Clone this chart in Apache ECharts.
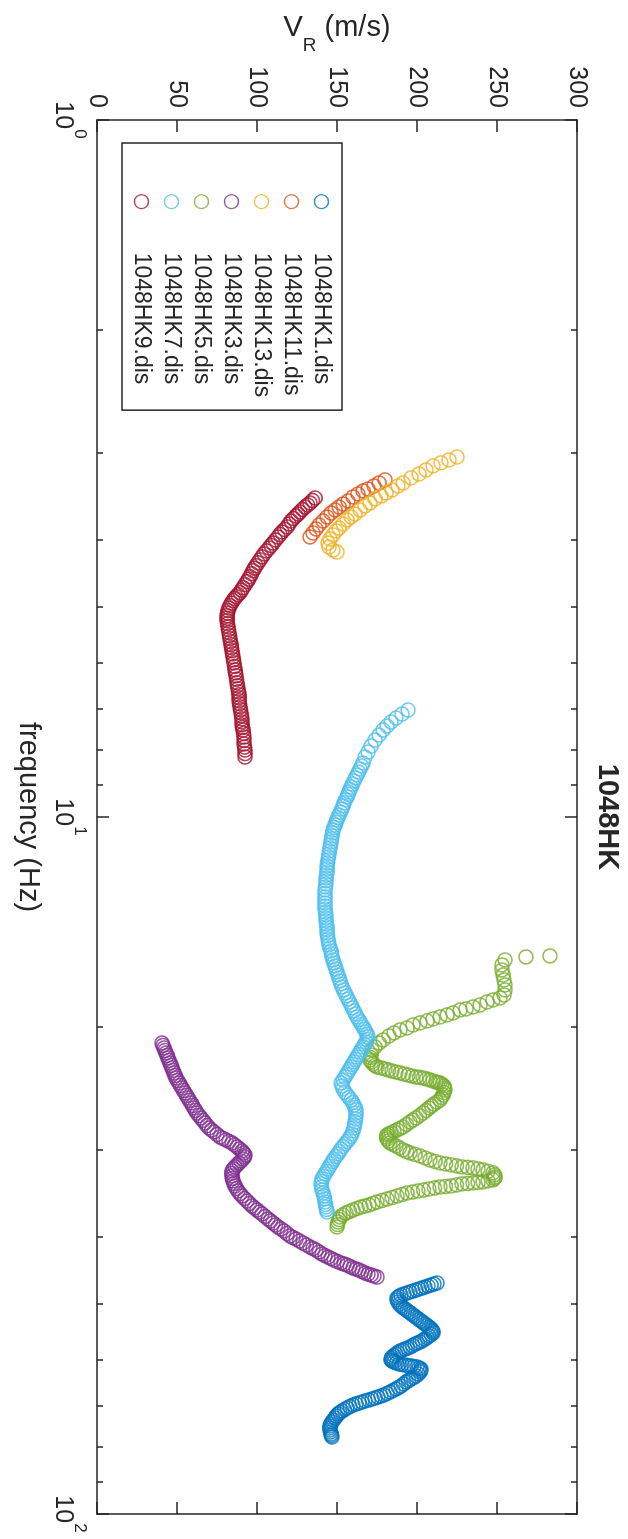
<!DOCTYPE html>
<html>
<head>
<meta charset="utf-8">
<script src="https://cdn.jsdelivr.net/npm/echarts@6/dist/echarts.min.js"></script>
<style>
  html, body { margin: 0; padding: 0; background: #fff; }
  #page { position: relative; width: 628px; height: 1539px; overflow: hidden; background: #fff; }
  /* the figure is laid out landscape and turned a quarter turn clockwise */
  #chart { position: absolute; left: 0; top: 0; width: 1539px; height: 628px;
           transform-origin: 0 0; transform: translate(628px, 0) rotate(90deg); }
</style>
</head>
<body>
<div id="page"><div id="chart"></div></div>
<script>
// Rayleigh-wave dispersion picks, site 1048HK: [frequency (Hz), V_R (m/s)]
const hk1 = [[46.626,212.5],[46.78,210.6],[46.934,208.8],[47.09,206.9],[47.247,205.0],[47.40,203.1],[47.560,201.3],[47.72,199.4],[47.875,197.5],[48.03,195.6],[48.192,193.8],[48.35,191.9],[48.512,190.0],[48.75,188.6],[48.995,187.5],[49.32,187.6],[49.647,188.1],[49.98,189.0],[50.306,190.0],[50.56,191.3],[50.808,192.5],[51.06,193.8],[51.314,195.0],[51.57,196.3],[51.819,197.5],[52.08,198.8],[52.335,200.0],[52.60,201.3],[52.855,202.5],[53.12,203.8],[53.383,205.0],[53.65,206.3],[53.915,207.5],[54.18,208.6],[54.452,209.4],[54.72,209.9],[54.994,210.0],[55.27,208.9],[55.542,207.5],[55.82,206.3],[56.104,205.0],[56.38,203.4],[56.663,201.9],[56.85,200.3],[57.037,198.8],[57.32,197.2],[57.605,195.6],[57.80,194.0],[57.988,192.5],[58.18,190.9],[58.373,189.4],[58.66,188.1],[58.954,186.9],[59.25,185.6],[59.541,184.4],[59.84,183.9],[60.134,183.8],[60.33,184.6],[60.524,185.6],[60.72,187.1],[60.925,188.8],[61.03,190.6],[61.127,192.5],[61.23,194.4],[61.329,196.3],[61.43,198.1],[61.532,200.0],[61.74,201.4],[61.939,202.5],[62.25,202.3],[62.555,201.9],[62.97,200.7],[63.389,199.4],[63.70,197.9],[64.020,196.3],[64.34,194.7],[64.658,193.1],[65.09,191.6],[65.518,190.0],[65.84,188.4],[66.171,186.9],[66.50,185.0],[66.830,183.1],[67.16,181.3],[67.495,179.4],[67.72,177.5],[67.943,175.6],[68.17,173.8],[68.393,171.9],[68.62,169.7],[68.847,167.5],[69.08,165.6],[69.304,163.8],[69.53,161.9],[69.763,160.0],[70.11,158.1],[70.458,156.3],[70.81,154.7],[71.159,153.1],[71.51,151.8],[71.860,150.6],[72.34,149.6],[72.817,148.8],[73.30,147.8],[73.785,146.9],[74.28,146.1],[74.767,145.6],[75.26,145.5],[75.761,145.6],[76.26,145.9],[76.768,146.3],[77.15,146.6],[77.535,146.9]];
const hk11 = [[3.284,180.0],[3.317,176.3],[3.350,173.1],[3.384,169.4],[3.406,166.3],[3.440,163.1],[3.474,160.0],[3.521,156.9],[3.556,153.8],[3.591,151.3],[3.627,148.8],[3.663,146.3],[3.712,143.8],[3.761,141.3],[3.811,138.8],[3.862,136.9],[3.913,135.0],[3.965,133.1]];
const hk13 = [[3.044,225.0],[3.074,220.0],[3.104,215.0],[3.135,210.0],[3.177,205.6],[3.220,201.3],[3.262,196.3],[3.317,191.3],[3.350,188.1],[3.395,184.4],[3.429,180.6],[3.463,177.5],[3.497,173.8],[3.544,170.6],[3.579,167.5],[3.627,164.4],[3.676,161.3],[3.712,158.8],[3.749,156.3],[3.798,153.8],[3.849,151.3],[3.887,149.4],[3.939,147.5],[3.992,145.6],[4.045,144.4],[4.099,145.0],[4.140,147.5],[4.167,150.0]];
const hk3 = [[21.098,40.6],[21.27,41.2],[21.449,41.9],[21.63,42.5],[21.807,43.1],[21.99,43.8],[22.170,44.4],[22.35,45.0],[22.538,45.6],[22.72,46.3],[22.913,46.9],[23.10,47.5],[23.294,48.1],[23.49,48.8],[23.683,49.4],[23.88,50.3],[24.077,51.3],[24.28,52.2],[24.480,53.1],[24.68,54.1],[24.888,55.0],[25.09,55.9],[25.302,56.9],[25.51,57.8],[25.724,58.8],[25.94,59.7],[26.152,60.6],[26.37,61.6],[26.585,62.5],[26.81,63.8],[27.028,65.0],[27.25,66.3],[27.478,67.5],[27.71,68.8],[27.935,70.0],[28.12,71.6],[28.307,73.1],[28.54,75.0],[28.777,76.9],[28.92,78.8],[29.064,80.6],[29.21,82.5],[29.354,84.4],[29.55,86.0],[29.744,87.5],[29.94,89.1],[30.139,90.6],[30.34,91.6],[30.540,92.5],[30.74,92.1],[30.947,91.3],[31.15,90.0],[31.352,88.8],[31.56,87.5],[31.769,86.3],[31.98,85.3],[32.191,84.4],[32.46,84.2],[32.728,84.4],[33.00,84.6],[33.273,85.0],[33.56,85.6],[33.838,86.3],[34.12,87.2],[34.402,88.1],[34.69,89.4],[34.974,90.6],[35.27,92.2],[35.557,93.8],[35.85,95.3],[36.149,96.9],[36.39,98.4],[36.630,100.0],[36.87,101.6],[37.116,103.1],[37.42,105.0],[37.734,106.9],[37.98,108.4],[38.235,110.0],[38.49,111.6],[38.745,113.1],[39.00,115.0],[39.260,116.9],[39.59,118.8],[39.914,120.6],[40.12,122.5],[40.318,124.4],[40.59,126.6],[40.854,128.8],[41.12,130.9],[41.396,133.1],[41.60,135.0],[41.810,136.9],[42.09,138.8],[42.366,140.6],[42.58,142.5],[42.788,144.4],[43.00,146.3],[43.214,148.1],[43.43,150.3],[43.645,152.5],[43.79,154.4],[43.934,156.3],[44.15,158.1],[44.372,160.0],[44.52,161.9],[44.666,163.8],[44.89,165.6],[45.109,167.5],[45.26,169.4],[45.410,171.3],[45.56,173.1],[45.711,175.0]];
const hk5 = [[15.826,283.1],[15.879,268.1],[16.037,255.0],[16.302,253.1],[16.574,253.1],[16.850,253.8],[17.131,254.4],[17.416,255.0],[17.707,255.0],[18.002,254.4],[18.181,251.9],[18.302,247.5],[18.423,243.8],[18.607,239.4],[18.730,235.0],[18.854,230.6],[18.916,226.9],[19.105,222.5],[19.232,218.8],[19.357,214.4],[19.486,210.0],[19.615,206.3],[19.745,201.9],[19.876,197.5],[20.074,193.8],[20.207,189.4],[20.408,185.6],[20.612,182.5],[20.890,178.8],[21.098,176.3],[21.379,173.8],[21.592,171.9],[21.952,171.3],[22.13,170.9],[22.317,170.6],[22.46,171.6],[22.612,172.5],[22.72,173.8],[22.837,175.0],[22.91,177.5],[22.989,180.0],[23.07,182.2],[23.141,184.4],[23.22,186.9],[23.294,189.4],[23.37,191.9],[23.449,194.4],[23.53,196.9],[23.605,199.4],[23.64,201.6],[23.683,203.8],[23.76,205.9],[23.840,208.1],[23.92,210.0],[23.998,211.9],[24.04,213.1],[24.077,214.4],[24.20,215.6],[24.317,216.9],[24.48,217.2],[24.642,217.5],[24.85,216.9],[25.052,216.3],[25.26,215.3],[25.470,214.4],[25.64,212.5],[25.809,210.6],[25.98,209.1],[26.152,207.5],[26.37,205.6],[26.585,203.8],[26.81,201.6],[27.028,199.4],[27.21,197.5],[27.387,195.6],[27.61,193.4],[27.843,191.3],[27.98,189.4],[28.120,187.5],[28.26,185.6],[28.400,183.8],[28.49,182.5],[28.589,181.3],[28.78,181.0],[28.968,181.3],[29.16,182.2],[29.354,183.1],[29.50,185.0],[29.650,186.9],[29.84,189.1],[30.040,191.3],[30.19,193.4],[30.339,195.6],[30.49,198.8],[30.641,201.9],[30.84,205.0],[31.049,208.1],[31.20,211.3],[31.352,214.4],[31.46,217.8],[31.560,221.3],[31.66,224.7],[31.769,228.1],[31.82,231.6],[31.874,235.0],[31.98,238.1],[32.085,241.3],[32.24,244.4],[32.404,247.5],[32.62,248.4],[32.836,248.8],[33.00,248.4],[33.163,247.5],[33.27,244.4],[33.383,241.3],[33.44,238.1],[33.493,235.0],[33.55,231.6],[33.604,228.1],[33.72,224.7],[33.838,221.3],[33.89,217.8],[33.950,214.4],[34.06,210.9],[34.175,207.5],[34.29,204.1],[34.402,200.6],[34.52,197.2],[34.630,193.8],[34.80,190.6],[34.974,187.5],[35.15,184.4],[35.323,181.3],[35.50,178.1],[35.675,175.0],[35.85,172.5],[36.030,170.0],[36.15,167.5],[36.269,165.0],[36.45,162.5],[36.630,160.0],[36.81,157.8],[36.994,155.6],[37.24,153.8],[37.486,151.9],[37.80,151.3],[38.110,150.6],[38.43,150.3],[38.745,150.0]];
const hk7 = [[7.023,194.4],[7.117,190.6],[7.211,186.9],[7.307,183.8],[7.404,181.3],[7.503,178.8],[7.628,176.3],[7.755,173.8],[7.910,171.3],[8.068,169.4],[8.202,167.5],[8.366,166.3],[8.45,165.3],[8.533,164.4],[8.62,163.4],[8.704,162.5],[8.79,161.6],[8.878,160.6],[8.97,159.7],[9.056,158.8],[9.13,158.1],[9.207,157.5],[9.28,156.9],[9.361,156.3],[9.45,155.3],[9.548,154.4],[9.64,153.8],[9.739,153.1],[9.84,152.2],[9.933,151.3],[10.02,150.6],[10.099,150.0],[10.18,149.4],[10.267,148.8],[10.35,148.1],[10.438,147.5],[10.54,147.2],[10.647,146.9],[10.75,146.6],[10.860,146.3],[10.97,145.9],[11.077,145.6],[11.19,145.3],[11.299,145.0],[11.41,144.7],[11.525,144.4],[11.64,144.1],[11.755,143.8],[11.87,143.8],[11.990,143.8],[12.11,143.4],[12.231,143.1],[12.35,143.1],[12.475,143.1],[12.60,142.8],[12.727,142.5],[12.87,142.5],[13.024,142.5],[13.15,142.5],[13.285,142.5],[13.42,142.5],[13.551,142.5],[13.69,142.8],[13.821,143.1],[13.96,143.1],[14.097,143.1],[14.24,143.4],[14.380,143.8],[14.52,143.8],[14.667,143.8],[14.81,144.1],[14.962,144.4],[15.11,144.7],[15.262,145.0],[15.41,145.6],[15.567,146.3],[15.72,146.6],[15.879,146.9],[16.04,147.5],[16.195,148.1],[16.36,148.8],[16.528,149.4],[16.69,150.0],[16.850,150.6],[17.02,151.3],[17.187,151.9],[17.36,152.5],[17.531,153.1],[17.71,154.1],[17.883,155.0],[18.06,155.9],[18.242,156.9],[18.42,157.8],[18.607,158.8],[18.79,159.7],[18.979,160.6],[19.17,161.6],[19.357,162.5],[19.52,163.4],[19.680,164.4],[19.84,165.3],[20.008,166.3],[20.17,167.2],[20.341,168.1],[20.51,168.8],[20.684,169.4],[20.86,168.8],[21.029,168.1],[21.20,167.2],[21.379,166.3],[21.56,165.3],[21.735,164.4],[21.92,163.4],[22.097,162.5],[22.28,161.6],[22.463,160.6],[22.65,159.7],[22.837,158.8],[23.03,157.8],[23.218,156.9],[23.41,155.9],[23.605,155.0],[23.84,153.8],[24.077,152.5],[24.32,153.1],[24.561,153.8],[24.81,155.0],[25.052,156.3],[25.26,157.5],[25.470,158.8],[25.68,159.7],[25.894,160.6],[26.11,161.3],[26.325,161.9],[26.59,161.9],[26.850,161.9],[27.12,161.6],[27.387,161.3],[27.66,160.9],[27.935,160.6],[28.21,160.0],[28.494,159.4],[28.73,158.4],[28.968,157.5],[29.21,156.3],[29.450,155.0],[29.70,153.8],[29.941,152.5],[30.19,151.6],[30.440,150.6],[30.69,149.4],[30.947,148.1],[31.20,147.2],[31.456,146.3],[31.72,145.3],[31.980,144.4],[32.25,143.4],[32.512,142.5],[32.78,141.6],[33.054,140.6],[33.33,140.3],[33.604,140.0],[33.95,140.3],[34.288,140.6],[34.63,141.3],[34.972,141.9],[35.32,142.2],[35.675,142.5],[35.97,142.8],[36.269,143.1],[36.57,143.4],[36.873,143.8]];
const hk9 = [[3.486,136.3],[3.515,134.7],[3.544,133.1],[3.567,131.6],[3.591,130.0],[3.621,128.4],[3.651,126.9],[3.675,125.6],[3.699,124.4],[3.730,122.8],[3.761,121.3],[3.798,120.0],[3.836,118.8],[3.868,117.2],[3.900,115.6],[3.932,114.4],[3.965,113.1],[4.005,111.6],[4.045,110.0],[4.078,108.8],[4.112,107.5],[4.152,105.9],[4.193,104.4],[4.234,103.1],[4.276,101.9],[4.318,100.6],[4.360,99.4],[4.396,98.4],[4.433,97.5],[4.477,96.6],[4.521,95.6],[4.558,94.7],[4.596,93.8],[4.641,92.5],[4.687,91.3],[4.726,90.3],[4.765,89.4],[4.797,88.1],[4.829,86.9],[4.861,85.9],[4.893,85.0],[4.933,84.1],[4.974,83.1],[5.016,82.5],[5.058,81.9],[5.100,81.6],[5.142,81.3],[5.184,81.3],[5.227,81.3],[5.280,81.6],[5.333,81.9],[5.387,82.2],[5.441,82.5],[5.495,82.8],[5.549,83.1],[5.605,83.4],[5.661,83.8],[5.718,84.1],[5.775,84.4],[5.833,84.7],[5.891,85.0],[5.950,85.3],[6.010,85.6],[6.080,85.9],[6.150,86.3],[6.210,86.6],[6.271,86.9],[6.344,87.2],[6.417,87.5],[6.481,87.8],[6.546,88.1],[6.611,88.4],[6.677,88.8],[6.744,88.8],[6.812,88.8],[6.880,89.1],[6.949,89.4],[7.019,89.7],[7.089,90.0],[7.160,90.3],[7.232,90.6],[7.304,90.6],[7.377,90.6],[7.440,90.9],[7.503,91.3],[7.590,91.6],[7.678,91.9],[7.767,91.9],[7.857,91.9],[7.936,92.2],[8.016,92.5],[8.110,92.5],[8.203,92.5]];

const seriesNames = ['1048HK1.dis', '1048HK11.dis', '1048HK13.dis', '1048HK3.dis', '1048HK5.dis', '1048HK7.dis', '1048HK9.dis'];
const seriesColors = ['#0072BD', '#D95319', '#EDB120', '#7E2F8E', '#77AC30', '#4DBEEE', '#A2142F'];
const seriesData = [hk1, hk11, hk13, hk3, hk5, hk7, hk9];

const chartTitle = '1048HK';
const freqRange = [1, 100];
const velocityRange = [0, 300];
const velocityStep = 50;

const ink = '#262626';
const font = '"Liberation Sans", Arial, Helvetica, sans-serif';
const lineStyle = { color: ink, width: 1.5 };

function frameAxis(extra) {
  return Object.assign({
    axisLine: { show: true, onZero: false, lineStyle: lineStyle },
    axisTick: { show: true, inside: true, length: 12, lineStyle: lineStyle },
    splitLine: { show: false }
  }, extra);
}

const freqAxisBase = {
  type: 'log', logBase: 10, min: freqRange[0], max: freqRange[1],
  minorTick: { show: true, splitNumber: 9, length: 6, lineStyle: lineStyle },
  minorSplitLine: { show: false }
};

const chart = echarts.init(document.getElementById('chart'), null, { renderer: 'canvas' });

chart.setOption({
  animation: false,
  backgroundColor: '#fff',
  title: {
    text: chartTitle, left: 817, top: 6, padding: 0, textAlign: 'center',
    textStyle: { fontSize: 29, fontWeight: 'bold', color: ink, fontFamily: font }
  },
  grid: { left: 120, right: 25, top: 51, bottom: 97, containLabel: false },
  xAxis: [
    frameAxis(Object.assign({}, freqAxisBase, {
      position: 'bottom',
      axisLabel: {
        margin: 9, color: ink, fontFamily: font,
        formatter: function (v) { return '{b|10}{s|' + Math.round(Math.log10(v)) + '}'; },
        rich: {
          b: { fontSize: 25, lineHeight: 25, padding: [13, 0, 0, 0], verticalAlign: 'top', color: ink, fontFamily: font },
          s: { fontSize: 17, lineHeight: 17, verticalAlign: 'top', color: ink, fontFamily: font }
        }
      },
      name: 'frequency (Hz)', nameLocation: 'middle', nameGap: 54,
      nameTextStyle: { fontSize: 29, color: ink, fontFamily: font }
    })),
    frameAxis(Object.assign({}, freqAxisBase, {
      position: 'top', axisLabel: { show: false }
    }))
  ],
  yAxis: [
    frameAxis({
      type: 'value', position: 'left',
      min: velocityRange[0], max: velocityRange[1], interval: velocityStep,
      axisLabel: { margin: 12, fontSize: 25, color: ink, fontFamily: font },
      name: '{v|V}{r|R}{v| (m/s)}', nameLocation: 'middle', nameGap: 61, nameRotate: 90,
      nameTextStyle: {
        color: ink, fontFamily: font,
        rich: {
          v: { fontSize: 29, lineHeight: 29, verticalAlign: 'top', color: ink, fontFamily: font },
          r: { fontSize: 19, lineHeight: 19, padding: [23, 0, 0, 0], verticalAlign: 'top', color: ink, fontFamily: font }
        }
      }
    }),
    frameAxis({
      type: 'value', position: 'right',
      min: velocityRange[0], max: velocityRange[1], interval: velocityStep,
      axisLabel: { show: false }
    })
  ],
  legend: {
    orient: 'vertical', left: 143, top: 286,
    padding: [9, 13, 8, 51], itemGap: 7, itemWidth: 14, itemHeight: 14,
    icon: 'circle', selectedMode: false,
    backgroundColor: '#fff', borderColor: ink, borderWidth: 1.5, borderRadius: 0,
    formatter: function (name) { return '{g| }{t|' + name + '}'; },
    textStyle: {
      fontSize: 23, lineHeight: 22, color: ink, fontFamily: font,
      rich: {
        g: { width: 39, fontSize: 23, lineHeight: 22 },
        t: { fontSize: 23, lineHeight: 22, color: ink, fontFamily: font }
      }
    },
    data: seriesNames.map(function (n, i) {
      return { name: n, itemStyle: { color: 'rgba(0,0,0,0)', borderColor: seriesColors[i], borderWidth: 1.3 } };
    })
  },
  series: seriesData.map(function (d, i) {
    return {
      type: 'scatter', name: seriesNames[i], data: d,
      symbol: 'circle', symbolSize: 14, silent: true,
      itemStyle: { color: 'rgba(0,0,0,0)', borderColor: seriesColors[i], borderWidth: 1.6 },
      emphasis: { disabled: true }
    };
  })
});
</script>
</body>
</html>
